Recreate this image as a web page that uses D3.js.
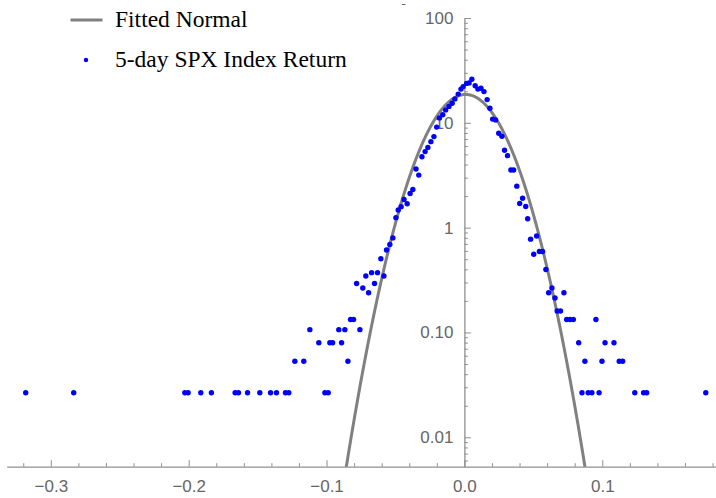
<!DOCTYPE html>
<html>
<head>
<meta charset="utf-8">
<script src="https://cdn.jsdelivr.net/npm/d3@7"></script>
<style>
  html, body { margin: 0; padding: 0; background: #fff; }
  svg { display: block; }
</style>
</head>
<body>
<svg id="chart" width="716" height="498"></svg>
<script>
// ---- data ----
const returnBins = [
  -0.3182, -0.2834, -0.2028, -0.2004, -0.1912, -0.1835, -0.1663, -0.1639, -0.1573, -0.1484,
  -0.1406, -0.1363, -0.1298, -0.1274, -0.1230, -0.1165, -0.1121, -0.1056, -0.1012, -0.0988,
  -0.0976, -0.0956, -0.0911, -0.0891, -0.0867, -0.0845, -0.0826, -0.0804, -0.0782, -0.0758,
  -0.0737, -0.0715, -0.0695, -0.0673, -0.0652, -0.0630, -0.0606, -0.0584, -0.0565, -0.0541,
  -0.0519, -0.0497, -0.0480, -0.0459, -0.0438, -0.0415, -0.0394, -0.0374, -0.0351, -0.0331,
  -0.0308, -0.0285, -0.0265, -0.0243, -0.0221, -0.0201, -0.0181, -0.0157, -0.0136, -0.0112,
  -0.0089, -0.0069, -0.0045, -0.0025, -0.0009, 0.0016, 0.0034, 0.0054, 0.0078, 0.0098,
  0.0120, 0.0142, 0.0165, 0.0185, 0.0205, 0.0226, 0.0249, 0.0272, 0.0291, 0.0313,
  0.0337, 0.0357, 0.0380, 0.0401, 0.0422, 0.0445, 0.0459, 0.0480, 0.0503, 0.0524,
  0.0544, 0.0567, 0.0591, 0.0611, 0.0635, 0.0657, 0.0673, 0.0697, 0.0722, 0.0742,
  0.0766, 0.0790, 0.0829, 0.0853, 0.0874, 0.0898, 0.0925, 0.0954, 0.0977, 0.0998,
  0.1020, 0.1085, 0.1123, 0.1148, 0.1236, 0.1300, 0.1322, 0.1751
];
const densities = [
  0.0266, 0.0266, 0.0266, 0.0266, 0.0266, 0.0266, 0.0266, 0.0266, 0.0266, 0.0266,
  0.0266, 0.0266, 0.0266, 0.0266, 0.0532, 0.0532, 0.1064, 0.0798, 0.0266, 0.0266,
  0.0798, 0.0798, 0.1064, 0.0798, 0.1064, 0.0532, 0.133, 0.133, 0.293, 0.1064,
  0.266, 0.346, 0.239, 0.372, 0.293, 0.372, 0.505, 0.346, 0.612, 0.692,
  0.798, 1.246, 1.475, 1.586, 1.858, 1.691, 2.120, 2.315, 3.632, 3.170,
  4.749, 5.312, 5.826, 6.616, 7.385, 9.099, 11.14, 11.95, 13.28, 14.34,
  15.38, 16.91, 18.79, 20.97, 22.15, 23.77, 24.03, 26.06, 22.59, 20.97,
  21.39, 19.85, 16.65, 13.78, 10.85, 10.66, 7.957, 7.434, 5.466, 4.864,
  3.552, 3.552, 2.489, 1.702, 1.908, 1.593, 1.216, 0.777, 0.557, 0.833,
  0.593, 0.593, 0.399, 0.239, 0.266, 0.213, 0.160, 0.160, 0.239, 0.133,
  0.133, 0.133, 0.0798, 0.0266, 0.0532, 0.0266, 0.0266, 0.133, 0.0266, 0.0532,
  0.0798, 0.0798, 0.0532, 0.0532, 0.0266, 0.0266, 0.0266, 0.0266
];
// fitted normal parameters
const fitMu = 0.0009;
const fitSigma = 0.0214;

const xTickValues = [-0.3, -0.2, -0.1, 0.0, 0.1];
const xTickLabels = ["\u22120.3", "\u22120.2", "\u22120.1", "0.0", "0.1"];
const yTickValues = [0.01, 0.1, 1, 10, 100];
const yTickLabels = ["0.01", "0.10", "1", "10", "100"];
const legendLabels = ["Fitted Normal", "5-day SPX Index Return"];

// ---- drawing ----
const svg = d3.select("#chart");
const W = 716, H = 498;
const axisColor = "#8f8f8f", labelColor = "#666";
const x = d3.scaleLinear().domain([-0.332, 0.1825]).range([6.7, 716]);
const y = d3.scaleLog().domain([0.005241, 100]).range([466.7, 18]);
const x0 = x(0), yBottom = y.range()[0];

// clip
svg.append("defs").append("clipPath").attr("id", "plotclip")
  .append("rect").attr("x", 0).attr("y", y.range()[1] - 4)
  .attr("width", W).attr("height", yBottom - y.range()[1] + 4);

// minor tick values
const xMinor = d3.range(-32, 19, 2).map(d => d / 100)
  .filter(v => !xTickValues.some(t => Math.abs(t - v) < 1e-9));
const yMinor = [];
[-3, -2, -1, 0, 1].forEach(e => {
  for (let k = 2; k <= 9; k++) {
    const v = k * Math.pow(10, e);
    if (v >= y.domain()[0] && v <= y.domain()[1]) yMinor.push(v);
  }
});

function styleAxis(g) {
  g.selectAll("path.domain").attr("stroke", axisColor).attr("stroke-width", 1.3);
  g.selectAll(".tick line").attr("stroke", axisColor).attr("stroke-width", 1);
  g.selectAll(".tick text").attr("fill", labelColor)
    .style("font-family", "'Liberation Sans', Arial, Helvetica, sans-serif")
    .style("font-size", "17px");
}

// x axis
const gx = svg.append("g").attr("transform", `translate(0,${yBottom})`);
gx.call(d3.axisBottom(x).tickValues(xMinor).tickFormat("").tickSizeInner(-3.5).tickSizeOuter(0));
gx.selectAll("path.domain").remove();
const gx2 = svg.append("g").attr("transform", `translate(0,${yBottom})`);
gx2.call(d3.axisBottom(x).tickValues(xTickValues)
  .tickFormat((d, i) => xTickLabels[i]).tickSizeInner(-6.5).tickSizeOuter(0).tickPadding(13));
styleAxis(gx); styleAxis(gx2);

// y axis
const gy = svg.append("g").attr("transform", `translate(${x0},0)`);
gy.call(d3.axisLeft(y).tickValues(yMinor).tickFormat("").tickSizeInner(-3.5).tickSizeOuter(0));
gy.selectAll("path.domain").remove();
const gy2 = svg.append("g").attr("transform", `translate(${x0},0)`);
gy2.call(d3.axisLeft(y).tickValues(yTickValues)
  .tickFormat((d, i) => yTickLabels[i]).tickSizeInner(-6.5).tickSizeOuter(0).tickPadding(11));
styleAxis(gy); styleAxis(gy2);

// fitted normal curve
const pdf = v => Math.exp(-0.5 * Math.pow((v - fitMu) / fitSigma, 2)) / (fitSigma * Math.sqrt(2 * Math.PI));
const xs = d3.range(-0.2, 0.2, 0.0004);
const curvePts = xs.map(v => [v, pdf(v)]).filter(p => p[1] > 1e-4);
svg.append("path")
  .attr("clip-path", "url(#plotclip)")
  .attr("d", d3.line().x(p => x(p[0])).y(p => y(p[1]))(curvePts))
  .attr("fill", "none").attr("stroke", "#808080").attr("stroke-width", 3);

// points
svg.append("g").selectAll("circle")
  .data(returnBins.map((r, i) => [r, densities[i]]))
  .join("circle")
  .attr("cx", d => x(d[0])).attr("cy", d => y(d[1])).attr("r", 2.7)
  .attr("fill", "#0000ff");

// legend
const lg = svg.append("g");
lg.append("line").attr("x1", 70.5).attr("x2", 102.5).attr("y1", 20).attr("y2", 20)
  .attr("stroke", "#808080").attr("stroke-width", 3);
lg.append("circle").attr("cx", 86).attr("cy", 60).attr("r", 2.2).attr("fill", "#0000ff");
lg.selectAll("text").data(legendLabels).join("text")
  .attr("x", 115).attr("y", (d, i) => 27 + i * 40)
  .attr("fill", "#000")
  .style("font-family", "'Liberation Serif', 'Times New Roman', serif")
  .style("font-size", "23.5px")
  .text(d => d);

// small stray mark at top as in reference
svg.append("line").attr("x1", 402).attr("x2", 405.5).attr("y1", 4.5).attr("y2", 4.5)
  .attr("stroke", "#666").attr("stroke-width", 1);
</script>
</body>
</html>
